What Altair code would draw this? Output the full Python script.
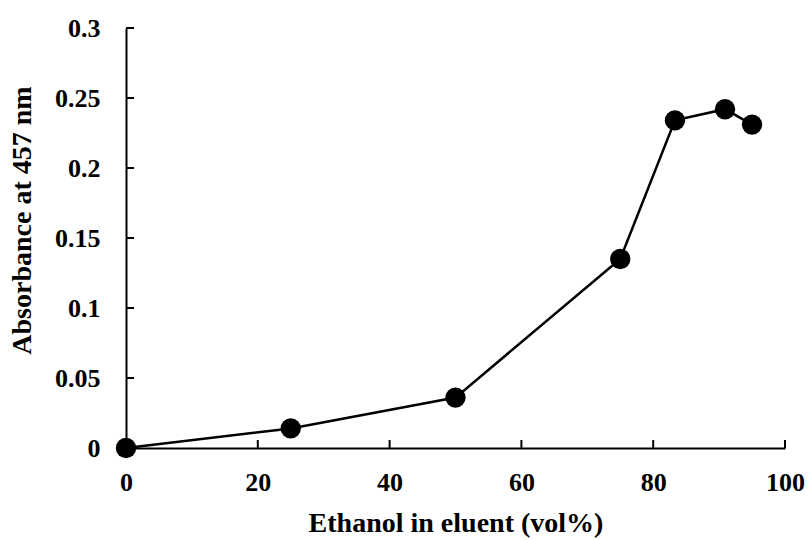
import altair as alt
import pandas as pd

# Ethanol fraction in the eluent (vol%) and absorbance measured at 457 nm
ethanol = [0, 25, 50, 75, 83.3, 90.9, 95]
absorbance = [0.0, 0.014, 0.036, 0.135, 0.234, 0.242, 0.231]

x_ticks = [20, 40, 60, 80, 100]
y_ticks = [0.05, 0.1, 0.15, 0.2, 0.25, 0.3]

W, H = 659, 420
FONT = "Liberation Serif"

df = pd.DataFrame({"ethanol": ethanol, "absorbance": absorbance})
xt = pd.DataFrame({"v": x_ticks})
yt = pd.DataFrame({"v": y_ticks})

x_scale = alt.Scale(domain=[0, 100], nice=False, zero=True)
y_scale = alt.Scale(domain=[0, 0.3], nice=False, zero=True)

x_axis = alt.Axis(
    values=[0, 20, 40, 60, 80, 100], format="d", ticks=False, tickSize=0, grid=False,
    labelFlush=False,
    domainColor="black", domainWidth=2,
    labelFont=FONT, labelFontWeight="bold", labelFontSize=26, labelColor="black",
    labelPadding=21,
    title="Ethanol in eluent (vol%)", titleFont=FONT, titleFontWeight="bold",
    titleFontSize=28, titleColor="black",
    titleX=W / 2, titleY=75, titleAlign="center", titleBaseline="middle",
)
y_axis = alt.Axis(
    values=[0, 0.05, 0.1, 0.15, 0.2, 0.25, 0.3],
    labelExpr="datum.value == 0 ? '0' : format(datum.value, '.2~f')",
    ticks=False, tickSize=0, grid=False, labelFlush=False,
    domainColor="black", domainWidth=2,
    labelFont=FONT, labelFontWeight="bold", labelFontSize=26, labelColor="black",
    labelPadding=26,
    title="Absorbance at 457 nm", titleFont=FONT, titleFontWeight="bold",
    titleFontSize=28, titleColor="black",
    titleX=-104, titleY=192, titleAngle=-90, titleAlign="center", titleBaseline="middle",
)

base = alt.Chart(df)

line = base.mark_line(color="black", strokeWidth=2.5, clip=False).encode(
    x=alt.X("ethanol:Q", scale=x_scale, axis=x_axis),
    y=alt.Y("absorbance:Q", scale=y_scale, axis=y_axis),
)
points = base.mark_circle(color="black", opacity=1, size=415, clip=False).encode(
    x=alt.X("ethanol:Q", scale=x_scale),
    y=alt.Y("absorbance:Q", scale=y_scale),
)

# inward-pointing tick marks
x_tick_marks = alt.Chart(xt).mark_rule(color="black", strokeWidth=2).encode(
    x=alt.X("v:Q", scale=x_scale),
    y=alt.value(H),
    y2=alt.value(H - 8),
)
y_tick_marks = alt.Chart(yt).mark_rule(color="black", strokeWidth=2).encode(
    y=alt.Y("v:Q", scale=y_scale),
    x=alt.value(0),
    x2=alt.value(8),
)

chart = (
    alt.layer(x_tick_marks, y_tick_marks, line, points)
    .properties(
        width=W,
        height=H,
        padding={"left": 126, "top": 28, "right": 25, "bottom": 92},
        autosize=alt.AutoSizeParams(type="none"),
        background="white",
    )
    .configure_view(stroke=None)
)

chart.save("out.html", embed_options={"renderer": "svg", "actions": False})
